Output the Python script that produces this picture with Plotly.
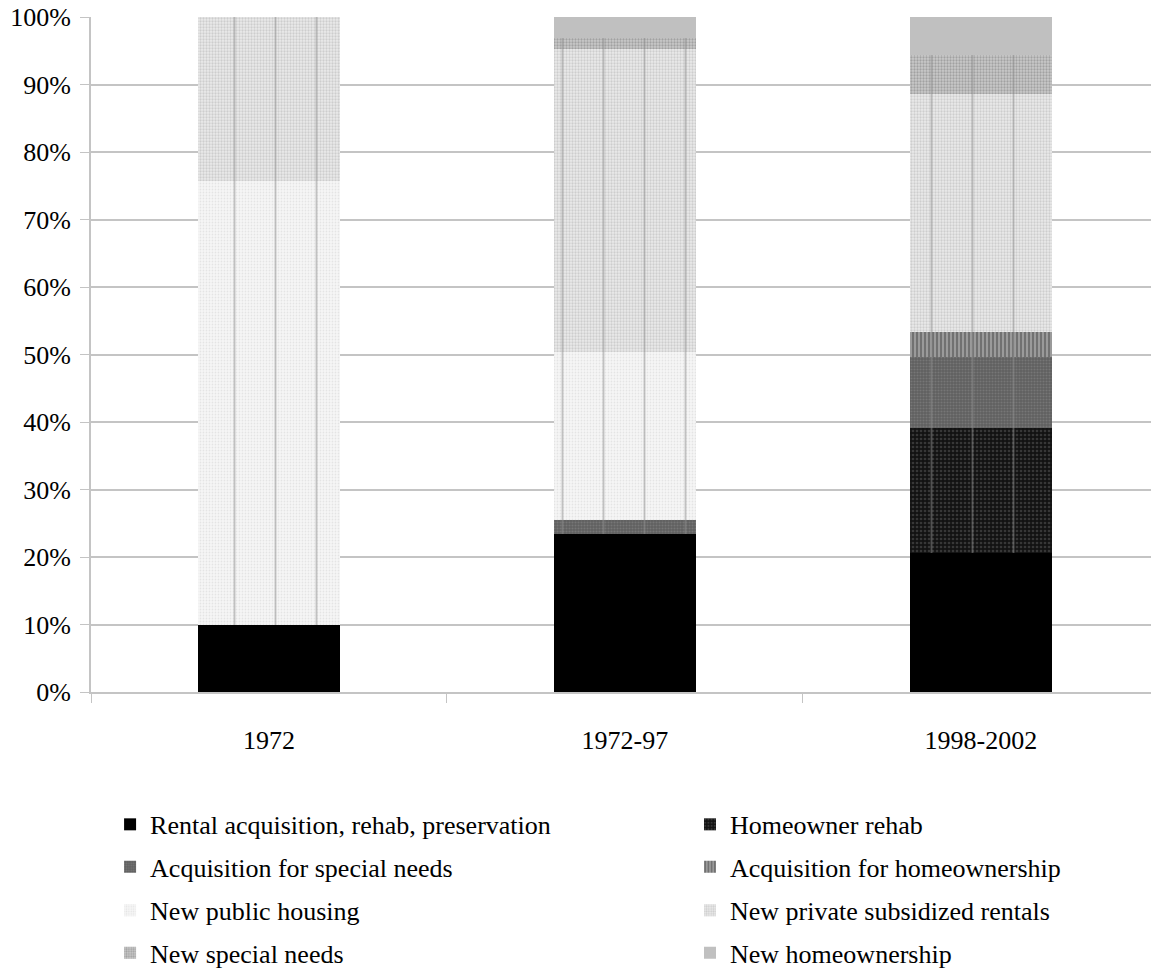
import plotly.graph_objects as go

# Share of units by program type, per period (percent of total)
categories = ["1972", "1972-97", "1998-2002"]
rental_acq = [9.9, 23.4, 20.6]
homeowner_rehab = [0.0, 0.0, 18.5]
acq_special_needs = [0.0, 2.1, 10.5]
acq_homeownership = [0.0, 0.0, 3.7]
new_public_housing = [65.8, 24.8, 0.0]
new_private_rentals = [24.3, 45.0, 35.3]
new_special_needs = [0.0, 1.6, 5.7]
new_homeownership = [0.0, 3.1, 5.7]

y_ticks = list(range(0, 101, 10))
y_tick_labels = [f"{v}%" for v in y_ticks]

FONT = "Liberation Serif, Times New Roman, serif"
GRID = "#c4c4c4"

series = [
    ("Rental acquisition, rehab, preservation", rental_acq,
     dict(color="#000000")),
    ("Homeowner rehab", homeowner_rehab,
     dict(pattern=dict(shape=".", bgcolor="#121212", fgcolor="#5c5c5c", size=4, solidity=0.35))),
    ("Acquisition for special needs", acq_special_needs,
     dict(pattern=dict(shape=".", bgcolor="#606060", fgcolor="#8c8c8c", size=3, solidity=0.4))),
    ("Acquisition for homeownership", acq_homeownership,
     dict(pattern=dict(shape="|", bgcolor="#9a9a9a", fgcolor="#474747", size=4, solidity=0.5))),
    ("New public housing", new_public_housing,
     dict(pattern=dict(shape=".", bgcolor="#f6f6f6", fgcolor="#d2d2d2", size=3, solidity=0.3))),
    ("New private subsidized rentals", new_private_rentals,
     dict(pattern=dict(shape=".", bgcolor="#ebebeb", fgcolor="#b0b0b0", size=3, solidity=0.45))),
    ("New special needs", new_special_needs,
     dict(pattern=dict(shape=".", bgcolor="#c9c9c9", fgcolor="#7a7a7a", size=3, solidity=0.45))),
    ("New homeownership", new_homeownership,
     dict(color="#c0c0c0")),
]

# one single-entry legend per item, laid out as a 2-column grid
legend_names = ["legend"] + [f"legend{k}" for k in range(2, 9)]
col_x = [0.018, 0.5651]
row_y = [-0.1962, -0.2592, -0.3236, -0.3866]

fig = go.Figure()
for i, (name, vals, marker) in enumerate(series):
    m = dict(marker)
    m["line"] = dict(width=0)
    if "pattern" in m:
        m["color"] = m["pattern"]["bgcolor"]
    fig.add_trace(go.Bar(
        x=categories, y=vals, name=name, marker=m, width=0.4,
        legend=legend_names[i], hoverinfo="skip",
    ))

# thin vertical rules running through the patterned part of each column
rule_base = rental_acq
rule_height = [100 - r - h for r, h in zip(rental_acq, new_homeownership)]
fig.add_trace(go.Bar(
    x=categories, y=rule_height, base=rule_base, xaxis="x2", width=0.4,
    showlegend=False, hoverinfo="skip",
    marker=dict(color="rgba(0,0,0,0)", line=dict(width=0),
                pattern=dict(shape="|", bgcolor="rgba(0,0,0,0)", fgcolor="#8e8e8e",
                             size=41, solidity=0.045)),
))

x_range = [-0.5, 2.478]

layout_legends = {}
for i, ln in enumerate(legend_names):
    layout_legends[ln] = dict(
        orientation="v", x=col_x[i % 2], xanchor="left",
        y=row_y[i // 2], yanchor="middle",
        font=dict(family=FONT, size=26, color="#000000"),
        bgcolor="rgba(0,0,0,0)", borderwidth=0,
    )

fig.update_layout(
    width=1151, height=977,
    margin=dict(l=91, r=0, t=17, b=277, pad=0),
    paper_bgcolor="white", plot_bgcolor="white",
    barmode="stack", bargap=0.6,
    font=dict(family=FONT, size=26, color="#000000"),
    xaxis=dict(
        type="category", categoryorder="array", categoryarray=categories,
        range=x_range, showgrid=False, showline=True, linecolor=GRID, linewidth=2,
        ticks="outside", tickson="boundaries", ticklen=9, tickcolor=GRID, tickwidth=1,
        ticklabelstandoff=24, tickfont=dict(family=FONT, size=26, color="#000000"),
        zeroline=False,
    ),
    xaxis2=dict(
        type="category", categoryorder="array", categoryarray=categories,
        range=x_range, overlaying="x", visible=False,
    ),
    yaxis=dict(
        range=[0, 100], tickmode="array", tickvals=y_ticks, ticktext=y_tick_labels,
        showgrid=True, gridcolor=GRID, gridwidth=1.5,
        showline=True, linecolor=GRID, linewidth=2,
        ticks="outside", ticklen=9, tickcolor=GRID, tickwidth=1,
        ticklabelstandoff=4, tickfont=dict(family=FONT, size=26, color="#000000"),
        zeroline=False,
    ),
    **layout_legends,
)

fig.write_html("out.html")
